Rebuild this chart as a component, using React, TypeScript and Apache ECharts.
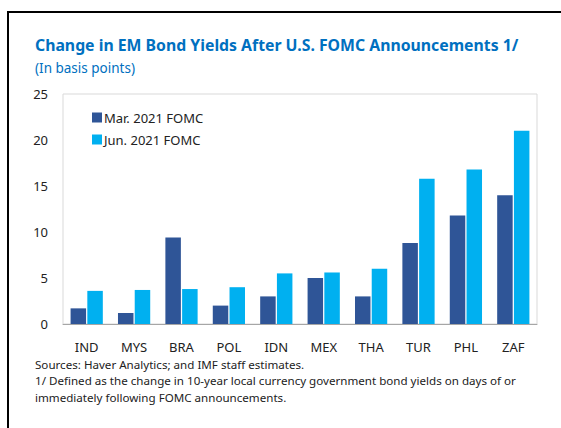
import React, { useEffect, useRef } from "react";
import * as echarts from "echarts";

const categories = ["IND", "MYS", "BRA", "POL", "IDN", "MEX", "THA", "TUR", "PHL", "ZAF"];
const marValues = [1.7, 1.2, 9.4, 2.0, 3.0, 5.0, 3.0, 8.8, 11.8, 14.0];
const junValues = [3.6, 3.7, 3.8, 4.0, 5.5, 5.6, 6.0, 15.8, 16.8, 21.0];
const seriesNames = ["Mar. 2021 FOMC", "Jun. 2021 FOMC"];
const titleText = "Change in EM Bond Yields After U.S. FOMC Announcements 1/";
const subtitleText = "(In basis points)";
const notes = [
  "Sources: Haver Analytics; and IMF staff estimates.",
  "1/ Defined as the change in 10-year local currency government bond yields on days of or",
  "immediately following FOMC announcements.",
];

const FONT = "'Noto Sans', 'Open Sans', sans-serif";

export default function App() {
  const ref = useRef<HTMLDivElement>(null);
  useEffect(() => {
    if (!ref.current) return;
    const chart = echarts.init(ref.current, undefined, { renderer: "svg" });
    chart.setOption({
      animation: false,
      backgroundColor: "#ffffff",
      textStyle: { fontFamily: FONT },
      grid: {
        left: 63,
        right: 24,
        top: 94,
        bottom: 104,
        show: true,
        borderColor: "#d9d9d9",
        borderWidth: 1,
      },
      legend: {
        left: 87,
        top: 106,
        orient: "vertical",
        itemWidth: 10,
        itemHeight: 10,
        itemGap: 9,
        icon: "rect",
        textStyle: { fontSize: 13, color: "#222", fontFamily: FONT, padding: [0, 0, 0, -3] },
        data: seriesNames,
      },
      xAxis: {
        type: "category",
        data: categories,
        axisLine: { lineStyle: { color: "#a6a6a6", width: 1 } },
        axisTick: { show: false },
        axisLabel: { fontSize: 13, color: "#222", margin: 16, fontFamily: FONT },
      },
      yAxis: {
        type: "value",
        min: 0,
        max: 25,
        interval: 5,
        axisLine: { show: false },
        axisTick: { show: false },
        splitLine: { show: false },
        axisLabel: { fontSize: 13, color: "#222", margin: 15, fontFamily: FONT },
      },
      series: [
        {
          name: seriesNames[0],
          type: "bar",
          data: marValues,
          barWidth: 15.5,
          barGap: "8%",
          itemStyle: { color: "#2F5597" },
        },
        {
          name: seriesNames[1],
          type: "bar",
          data: junValues,
          barWidth: 15.5,
          barGap: "8%",
          itemStyle: { color: "#00B0F0" },
        },
      ],
      graphic: [
        {
          type: "polyline",
          shape: { points: [[8, 440], [8, 12], [570, 12]] },
          style: { stroke: "#000", lineWidth: 2, fill: "none" },
          silent: true,
        },
        {
          type: "text",
          left: 35,
          top: 37,
          style: { text: titleText, fontSize: 15.8, fontWeight: "bold", fill: "#0070C0", fontFamily: FONT },
        },
        {
          type: "text",
          left: 35,
          top: 61,
          style: { text: subtitleText, fontSize: 13.5, fill: "#0070C0", fontFamily: FONT },
        },
        ...notes.map((t, i) => ({
          type: "text",
          left: 35,
          top: 358 + i * 16.5,
          style: { text: t, fontSize: 11.6, fill: "#222", fontFamily: FONT },
        })),
      ],
    });
    return () => chart.dispose();
  }, []);
  return (
    <div
      ref={ref}
      style={{ position: "fixed", left: 0, top: 0, width: 561, height: 428 }}
    />
  );
}
